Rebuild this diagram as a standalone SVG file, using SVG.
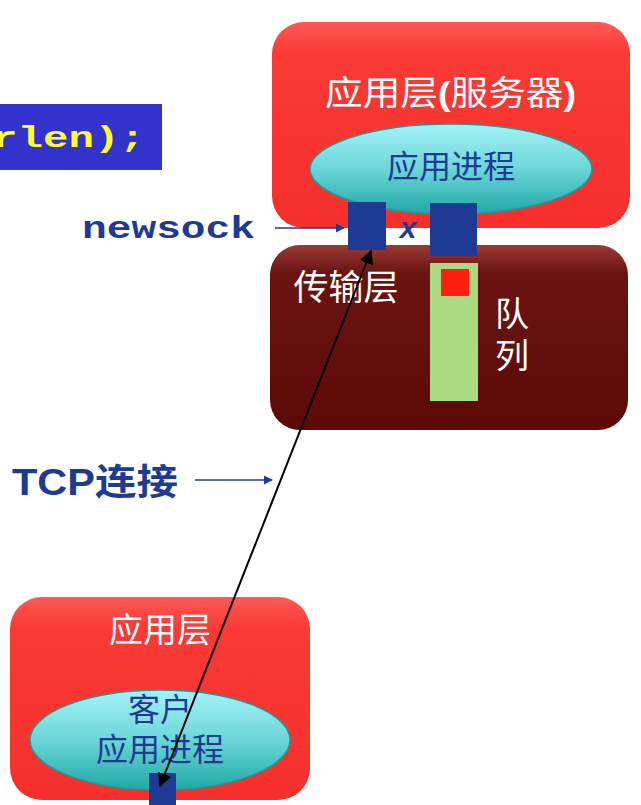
<svg xmlns="http://www.w3.org/2000/svg" width="641" height="805" viewBox="0 0 641 805">
<defs>
<linearGradient id="red" x1="0" y1="0" x2="0" y2="1"><stop offset="0" stop-color="#ff5a55"/><stop offset="0.15" stop-color="#f93a35"/><stop offset="1" stop-color="#f5302c"/></linearGradient>
<linearGradient id="dark" x1="0" y1="0" x2="0" y2="1"><stop offset="0" stop-color="#9a3a36"/><stop offset="0.15" stop-color="#6a1410"/><stop offset="1" stop-color="#5c0a06"/></linearGradient>
<linearGradient id="cyan" x1="0" y1="0" x2="0" y2="1"><stop offset="0" stop-color="#a4f3f6"/><stop offset="0.5" stop-color="#6cd6d8"/><stop offset="1" stop-color="#1fa8a6"/></linearGradient>
<marker id="ab" viewBox="0 0 10 10" refX="9" refY="5" markerWidth="7" markerHeight="7" orient="auto-start-reverse"><path d="M0,0 L10,5 L0,10 z" fill="#000"/></marker>
<marker id="au" viewBox="0 0 10 10" refX="9" refY="5" markerWidth="6" markerHeight="6" orient="auto"><path d="M0,0 L10,5 L0,10 z" fill="#1f3a93"/></marker>
</defs>
<style>
.cn{font-family:"Liberation Sans","Noto Sans CJK SC",sans-serif}
.sock{fill:#1f3a93}
</style>
<g id="code"><rect x="0" y="104" width="162" height="66" fill="#3333cc"/>
<text x="-8" y="147" font-family="Liberation Mono,monospace" font-weight="bold" font-size="30" fill="#ffff33" textLength="153" lengthAdjust="spacingAndGlyphs">rlen);</text></g>
<g id="server"><rect x="272" y="22" width="358" height="206" rx="32" fill="url(#red)"/>
<text x="325" y="105" class="cn" font-size="34" fill="#fff" textLength="251" lengthAdjust="spacingAndGlyphs">应用层<tspan font-weight="bold">(</tspan>服务器<tspan font-weight="bold">)</tspan></text>
<ellipse cx="451" cy="169" rx="141" ry="45" fill="url(#cyan)" stroke="#1b9c9a" stroke-width="1.5"/>
<text x="451" y="178" text-anchor="middle" class="cn" font-size="32" fill="#1f3a93">应用进程</text></g>
<g id="transport"><rect x="270" y="245" width="358" height="185" rx="30" fill="url(#dark)"/>
<text x="346" y="300" text-anchor="middle" class="cn" font-size="35" fill="#fff">传输层</text>
<rect x="430" y="263" width="48" height="138" fill="#acd982"/>
<rect x="441" y="269" width="28" height="27" fill="#ff2010"/>
<text x="512" y="326" text-anchor="middle" class="cn" font-size="34" fill="#fff">队</text>
<text x="512" y="368" text-anchor="middle" class="cn" font-size="34" fill="#fff">列</text></g>
<g id="sockets"><rect class="sock" x="348" y="202" width="38" height="48"/><rect class="sock" x="430" y="203" width="47" height="53"/>
<text x="408" y="238" text-anchor="middle" font-family="Liberation Sans,sans-serif" font-weight="bold" font-style="italic" font-size="30" fill="#1f3a93">x</text></g>
<g id="labels"><text x="82" y="238" font-family="Liberation Mono,monospace" font-weight="bold" font-size="32" fill="#1f3a93" textLength="173" lengthAdjust="spacingAndGlyphs">newsock</text>
<text x="12" y="495" class="cn" font-weight="bold" font-size="36" fill="#1f3a93" textLength="166" lengthAdjust="spacingAndGlyphs">TCP连接</text></g>
<g id="client"><rect x="10" y="597" width="300" height="203" rx="32" fill="url(#red)"/>
<text x="160" y="642" text-anchor="middle" class="cn" font-size="34" fill="#fff">应用层</text>
<ellipse cx="160" cy="740" rx="130" ry="50" fill="url(#cyan)" stroke="#1b9c9a" stroke-width="1.5"/>
<text x="160" y="721" text-anchor="middle" class="cn" font-size="32" fill="#1f3a93">客户</text>
<text x="160" y="761" text-anchor="middle" class="cn" font-size="32" fill="#1f3a93">应用进程</text>
<rect class="sock" x="149" y="773" width="27" height="32"/></g>
<g id="connectors" fill="none">
<line x1="160" y1="786" x2="371" y2="251" stroke="#000" stroke-width="2" marker-start="url(#ab)" marker-end="url(#ab)"/>
<line x1="275" y1="228" x2="344" y2="228" stroke="#1f3a93" stroke-width="1.5" marker-end="url(#au)"/>
<line x1="195" y1="480" x2="272" y2="480" stroke="#1f3a93" stroke-width="1.5" marker-end="url(#au)"/>
</g>
</svg>
